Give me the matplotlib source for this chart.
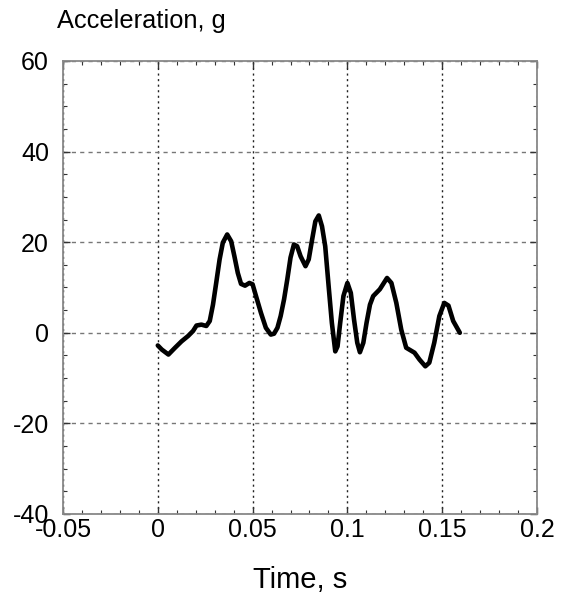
import matplotlib
matplotlib.use("Agg")
import matplotlib.pyplot as plt
from matplotlib.ticker import MultipleLocator, FuncFormatter

plt.rcParams['font.family'] = ['Liberation Sans', 'DejaVu Sans']
plt.rcParams['axes.unicode_minus'] = False

time_s = [0.0, 0.0021, 0.0056, 0.0091, 0.0125, 0.0160, 0.0186, 0.0204, 0.0230, 0.0256,
          0.0274, 0.0291, 0.0308, 0.0326, 0.0343, 0.0366, 0.0387, 0.0404, 0.0422, 0.0439,
          0.0460, 0.0483, 0.0500, 0.0518, 0.0544, 0.0570, 0.0596, 0.0613, 0.0631, 0.0648,
          0.0666, 0.0683, 0.0700, 0.0718, 0.0735, 0.0753, 0.0779, 0.0796, 0.0814, 0.0831,
          0.0849, 0.0866, 0.0883, 0.0901, 0.0918, 0.0936, 0.0948, 0.0962, 0.0979, 0.1000,
          0.1018, 0.1035, 0.1052, 0.1066, 0.1084, 0.1101, 0.1119, 0.1136, 0.1171, 0.1209,
          0.1232, 0.1258, 0.1284, 0.1310, 0.1354, 0.1380, 0.1411, 0.1432, 0.1458, 0.1485,
          0.1511, 0.1533, 0.1558, 0.1593]
accel_g = [-2.8, -3.7, -4.8, -3.3, -1.9, -0.7, 0.4, 1.6, 1.8, 1.5,
           2.6, 6.2, 11.0, 16.2, 19.9, 21.7, 20.2, 16.9, 13.2, 10.8,
           10.4, 11.0, 10.7, 8.1, 4.4, 1.1, -0.4, -0.2, 1.1, 3.7,
           7.4, 11.8, 16.6, 19.5, 19.1, 16.9, 14.7, 16.2, 20.6, 24.6,
           25.9, 23.5, 19.1, 10.3, 2.2, -4.1, -3.0, 2.2, 8.1, 11.0,
           8.8, 2.9, -2.2, -4.3, -2.2, 2.2, 6.2, 8.1, 9.6, 12.1,
           11.0, 6.6, 0.7, -3.3, -4.4, -5.9, -7.4, -6.6, -2.2, 3.7,
           6.6, 6.0, 2.6, 0.0]

x_ticks = [-0.05, 0, 0.05, 0.1, 0.15, 0.2]
y_ticks = [-40, -20, 0, 20, 40, 60]

fig = plt.figure(figsize=(5.67, 5.96), dpi=100)
ax = fig.add_axes([0.1111, 0.1376, 0.836, 0.7601])

ax.plot(time_s, accel_g, color='black', linewidth=3.3, solid_joinstyle='round',
        solid_capstyle='round', zorder=3)

ax.set_xlim(-0.05, 0.2)
ax.set_ylim(-40, 60)
ax.set_xticks(x_ticks)
ax.set_yticks(y_ticks)
ax.xaxis.set_minor_locator(MultipleLocator(0.01))
ax.yaxis.set_minor_locator(MultipleLocator(5))

def fmt(v, pos):
    return f"{v:g}"
ax.xaxis.set_major_formatter(FuncFormatter(fmt))
ax.yaxis.set_major_formatter(FuncFormatter(fmt))

ax.tick_params(which='both', direction='in', top=True, right=True, labelsize=18,
               color='#333333')
ax.tick_params(which='major', length=5, width=1)
ax.tick_params(which='minor', length=3, width=0.8)
ax.tick_params(axis='x', pad=3)
ax.tick_params(axis='y', pad=10)

for sp in ax.spines.values():
    sp.set_color('#888888')
    sp.set_linewidth(1.3)

ax.xaxis.grid(True, linestyle=(0, (1.5, 2.5)), color='#222222', linewidth=1.0)
ax.yaxis.grid(True, linestyle=(0, (3, 3)), color='#777777', linewidth=1.0)
ax.set_axisbelow(True)

fig.text(0.1005, 0.953, 'Acceleration, g', fontsize=18.3, ha='left', va='baseline')
fig.text(0.529, 0.0134, 'Time, s', fontsize=21, ha='center', va='baseline')

fig.savefig('out.png', dpi=100)
